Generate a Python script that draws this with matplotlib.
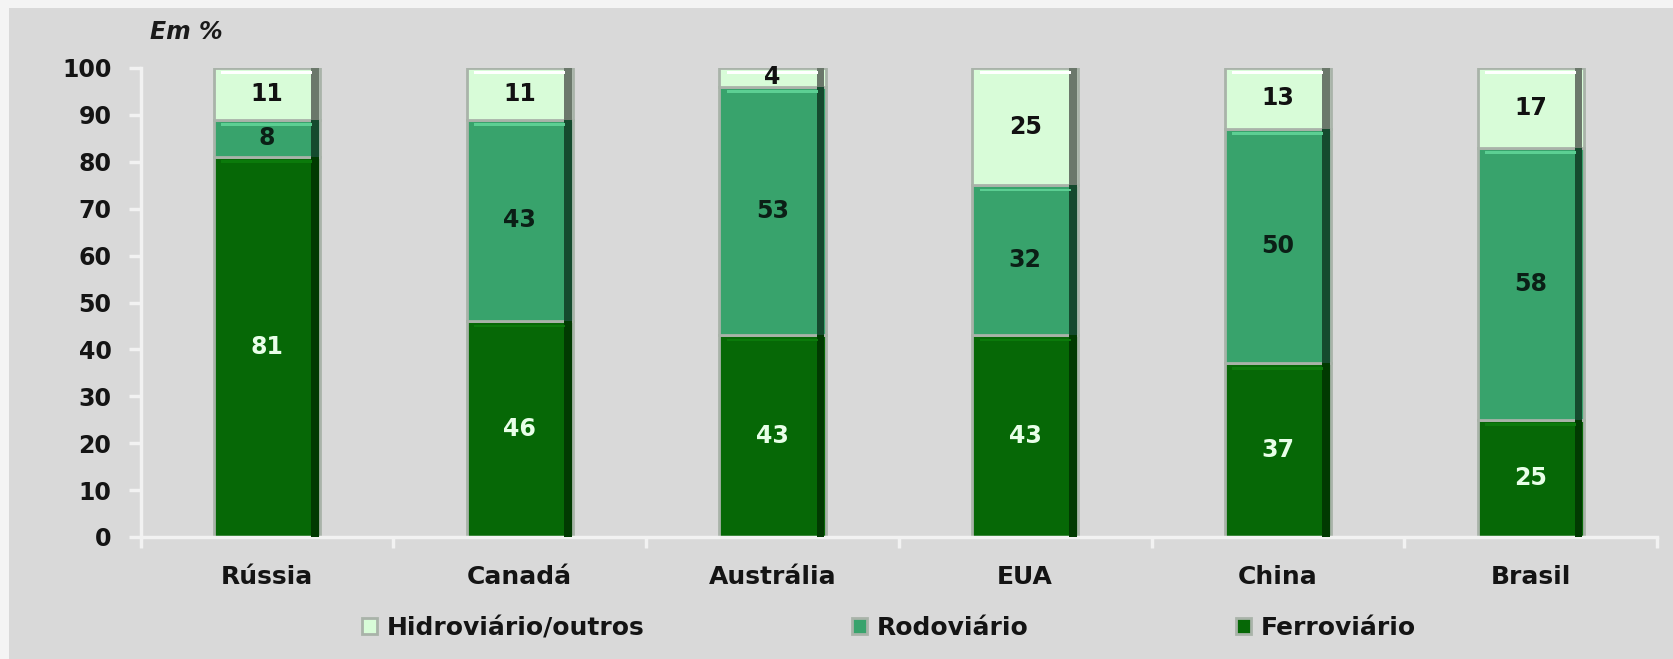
import matplotlib
matplotlib.use("Agg")
import matplotlib.pyplot as plt
import numpy as np
from matplotlib.patches import Rectangle

# data (percent of freight by mode)
paises = ['Rússia', 'Canadá', 'Austrália', 'EUA', 'China', 'Brasil']
ferroviario = [81, 46, 43, 43, 37, 25]
rodoviario = [8, 43, 53, 32, 50, 58]
hidroviario = [11, 11, 4, 25, 13, 17]
yticks = [0, 10, 20, 30, 40, 50, 60, 70, 80, 90, 100]

bg = '#d9d9d9'
fig = plt.figure(figsize=(16.74, 6.59), dpi=100, facecolor='#f4f4f4')
# gray panel, leaving a thin light band at top and left as in the source
fig.patches.append(Rectangle((9 / 1674, 0), 1, (659 - 8) / 659,
                             transform=fig.transFigure, facecolor=bg,
                             edgecolor='none', zorder=-5))

ax = fig.add_axes([140.6 / 1674, 1 - 537 / 659, (1657 - 140.6) / 1674,
                   (537 - 68) / 659])
ax.set_facecolor(bg)
ax.set_zorder(2)

x = np.arange(len(paises))
w = 0.42
strip = 0.03

series = [
    ('Ferroviário', ferroviario, '#066806', '#013a01', '#0b7a0b', '#e8ffe8'),
    ('Rodoviário', rodoviario, '#38a36c', '#154a2e', '#5ccf93', '#0b1f16'),
    ('Hidroviário/outros', hidroviario, '#d8fcd8', '#6b786b', '#ffffff', '#111111'),
]

bottom = np.zeros(len(paises))
handles = {}
for nome, vals, cor, escuro, claro, txt in series:
    vals = np.array(vals, dtype=float)
    b = ax.bar(x, vals, w, bottom=bottom, color=cor, edgecolor='#a9b3a9',
               linewidth=2, zorder=2, label=nome)
    handles[nome] = b
    # bevel: dark strip on the right, light strip along the top
    ax.bar(x + w / 2 - strip / 2 - 0.005, vals, strip, bottom=bottom,
           color=escuro, linewidth=0, zorder=3)
    ax.bar(x, np.full(len(x), 0.6), w - 2 * strip, bottom=bottom + vals - 1.3,
           color=claro, linewidth=0, zorder=3)
    for xi, v, bt in zip(x, vals, bottom):
        ax.text(xi, bt + v / 2, f'{int(v)}', ha='center', va='center',
                color=txt, fontsize=17, fontweight='bold', zorder=4)
    bottom = bottom + vals

ax.set_xlim(-0.5, len(paises) - 0.5)
ax.set_ylim(0, 100)
ax.set_yticks(yticks)
ax.set_yticklabels([str(t) for t in yticks])

# boundaries get the tick marks, centres get the labels
ax.set_xticks(np.arange(len(paises) + 1) - 0.5)
ax.set_xticklabels([])
ax.set_xticks(x, minor=True)
ax.set_xticklabels(paises, minor=True)
ax.tick_params(axis='x', which='major', length=8, width=2.5, color='#f2f2f2',
               direction='out')
ax.tick_params(axis='x', which='minor', length=0, pad=20, labelsize=18)
ax.tick_params(axis='y', length=9, width=2.5, color='#f2f2f2', pad=12,
               labelsize=17)
for lab in ax.get_xticklabels(minor=True) + ax.get_yticklabels():
    lab.set_fontweight('bold')
    lab.set_color('#141414')

for s in ['top', 'right']:
    ax.spines[s].set_visible(False)
for s in ['left', 'bottom']:
    ax.spines[s].set_color('#f2f2f2')
    ax.spines[s].set_linewidth(2.5)

fig.text(150 / 1674, 1 - 32 / 659, 'Em %', fontsize=17, fontweight='bold',
         fontstyle='italic', color='#1a1a1a', va='center', ha='left')

order = ['Hidroviário/outros', 'Rodoviário', 'Ferroviário']
leg = fig.legend([handles[n] for n in order], order, loc='center',
                 bbox_to_anchor=(889 / 1674, 1 - 628 / 659), ncol=3,
                 frameon=False, handlelength=0.6,
                 handleheight=0.6, handletextpad=0.4, columnspacing=8.3,
                 prop={'weight': 'bold', 'size': 18})
for t in leg.get_texts():
    t.set_color('#141414')

fig.savefig('out.png', dpi=100, facecolor=fig.get_facecolor())
